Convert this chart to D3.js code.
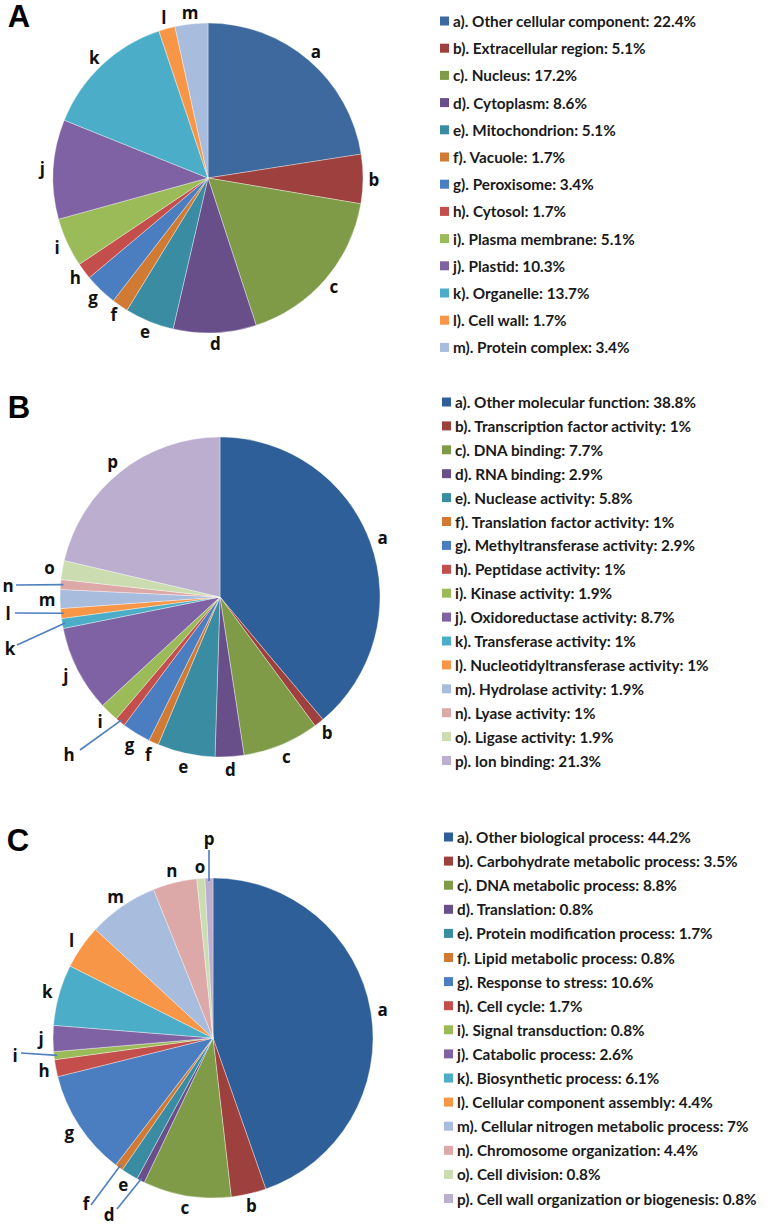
<!DOCTYPE html>
<html><head><meta charset="utf-8">
<script src="https://cdn.jsdelivr.net/npm/d3@7"></script>
<style>body{margin:0;background:#fff}svg{display:block}</style>
</head><body>
<svg id="chart" width="770" height="1227"></svg>
<script>
const letters = ["a","b","c","d","e","f","g","h","i","j","k","l","m","n","o","p"];

const catA = ["Other cellular component","Extracellular region","Nucleus","Cytoplasm","Mitochondrion","Vacuole","Peroxisome","Cytosol","Plasma membrane","Plastid","Organelle","Cell wall","Protein complex"];
const valA = [22.4,5.1,17.2,8.6,5.1,1.7,3.4,1.7,5.1,10.3,13.7,1.7,3.4];

const catB = ["Other molecular function","Transcription factor activity","DNA binding","RNA binding","Nuclease activity","Translation factor activity","Methyltransferase activity","Peptidase activity","Kinase activity","Oxidoreductase activity","Transferase activity","Nucleotidyltransferase activity","Hydrolase activity","Lyase activity","Ligase activity","Ion binding"];
const valB = [38.8,1,7.7,2.9,5.8,1,2.9,1,1.9,8.7,1,1,1.9,1,1.9,21.3];

const catC = ["Other biological process","Carbohydrate metabolic process","DNA metabolic process","Translation","Protein modification process","Lipid metabolic process","Response to stress","Cell cycle","Signal transduction","Catabolic process","Biosynthetic process","Cellular component assembly","Cellular nitrogen metabolic process","Chromosome organization","Cell division","Cell wall organization or biogenesis"];
const valC = [44.2,3.5,8.8,0.8,1.7,0.8,10.6,1.7,0.8,2.6,6.1,4.4,7,4.4,0.8,0.8];

const palette = ["#2F5F99","#9E403D","#7F9B47","#684F8A","#3A8CA3","#D07A33","#4A7EC0","#C44E4B","#9BBB59","#7F62A3","#4BADC8","#F79646","#A8BCDD","#DCA8A8","#CADCB0","#BBAECF"];
const paletteA = ["#3D699E"].concat(palette.slice(1));

const svg = d3.select("#chart");

const panels = [
  {tag:"A", cats:catA, vals:valA, colors:paletteA, cx:208, cy:178, r:155, lab:11, tagX:19, tagY:16,
   legX:440, legY:21, legStep:27.2, callouts:{}},
  {tag:"B", cats:catB, vals:valB, colors:palette, cx:220, cy:597, r:160, lab:13, tagX:19, tagY:407,
   legX:442, legY:402, legStep:23.9,
   callouts:{h:{t:[-151,157], s:[-140,153]}, k:{t:[-210,51], s:[-203,48]}, l:{t:[-212,16], s:[-205,16]}, n:{t:[-212,-12], s:[-204,-12]}}},
  {tag:"C", cats:catC, vals:valC, colors:palette, cx:213, cy:1038, r:160, lab:12, tagX:18, tagY:840,
   legX:444, legY:837, legStep:24.1,
   callouts:{d:{t:[-104,176], s:[-96,171]}, f:{t:[-127,165], s:[-122,167]}, i:{t:[-198,17], s:[-192,15]}, p:{t:[-4,-200], s:[-4,-188]}}}
];

panels.forEach(p => {
  const data = p.vals.map((v,i) => ({letter:letters[i], cat:p.cats[i], v, color:p.colors[i]}));
  const pie = d3.pie().value(d => d.v).sort(null);
  const arcs = pie(data);
  const arc = d3.arc().innerRadius(0).outerRadius(p.r);
  const g = svg.append("g").attr("transform", `translate(${p.cx},${p.cy})`);
  g.selectAll("path.slice").data(arcs).join("path")
    .attr("class","slice")
    .attr("d", arc)
    .attr("fill", d => d.data.color)
    .attr("stroke", "#ffffff").attr("stroke-width", 0.6).attr("stroke-opacity",0.6);

  const labelR = p.r + p.lab;
  arcs.forEach(a => {
    const mid = (a.startAngle + a.endAngle)/2;
    const co = p.callouts[a.data.letter];
    let tx, ty;
    if (co) {
      tx = co.t[0]; ty = co.t[1];
      const ex = Math.sin(mid)*(p.r-3), ey = -Math.cos(mid)*(p.r-3);
      g.append("line").attr("x1", co.s[0]).attr("y1", co.s[1]).attr("x2", ex).attr("y2", ey)
        .attr("stroke","#4F7FBF").attr("stroke-width",1.6);
    } else {
      tx = Math.sin(mid)*labelR; ty = -Math.cos(mid)*labelR;
    }
    g.append("text").attr("x", tx).attr("y", ty)
      .attr("text-anchor","middle").attr("dominant-baseline","central")
      .attr("font-family","'Open Sans', sans-serif").attr("font-weight","bold")
      .attr("font-size", 17).attr("fill","#111").text(a.data.letter);
  });

  svg.append("text").attr("x", p.tagX).attr("y", p.tagY)
    .attr("text-anchor","middle").attr("dominant-baseline","central")
    .attr("font-family","Arial, 'Liberation Sans', sans-serif").attr("font-weight","bold")
    .attr("font-size", 31).attr("fill","#000").text(p.tag);

  const leg = svg.append("g");
  data.forEach((d,i) => {
    const y = p.legY + i*p.legStep;
    leg.append("rect").attr("x", p.legX).attr("y", y-4.5).attr("width",9).attr("height",9).attr("fill", d.color);
    leg.append("text").attr("x", p.legX+13).attr("y", y)
      .attr("dominant-baseline","central")
      .attr("font-family","Lato, sans-serif").attr("font-weight","bold")
      .attr("font-size", 15.3).attr("fill","#1a1a1a")
      .text(`${d.letter}). ${d.cat}: ${d.v}%`);
  });
});
</script>
</body></html>
